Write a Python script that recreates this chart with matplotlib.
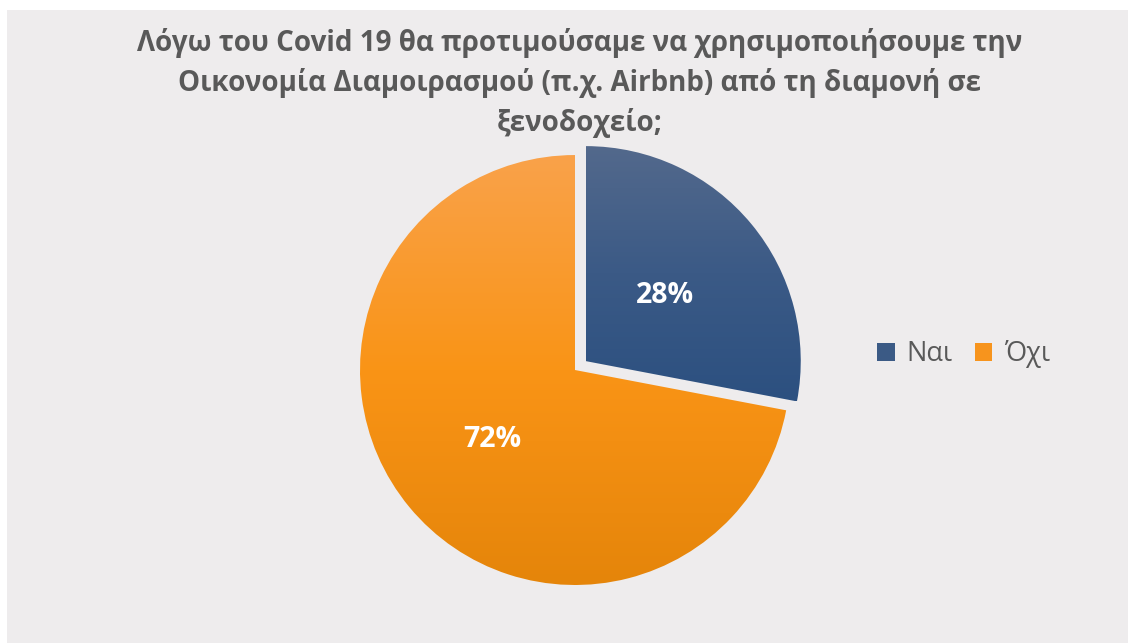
import numpy as np
import matplotlib.pyplot as plt
from matplotlib.colors import LinearSegmentedColormap
from matplotlib.patches import Rectangle, Patch

# survey answers
labels = ['Ναι', 'Όχι']
shares = [28, 72]
grad_colors = [['#53698c', '#3b5a86', '#2c5080'],
               ['#f9a24a', '#fa9416', '#e5850a']]
legend_colors = ['#3b5a85', '#f7941d']
title = ('Λόγω του Covid 19 θα προτιμούσαμε να χρησιμοποιήσουμε την\n'
         'Οικονομία Διαμοιρασμού (π.χ. Airbnb) από τη διαμονή σε\n'
         'ξενοδοχείο;')

plt.rcParams['font.family'] = ['Open Sans', 'DejaVu Sans']

fig = plt.figure(figsize=(11.35, 6.43), dpi=100)
fig.patch.set_facecolor('white')
fig.patches.append(Rectangle((7 / 1135, 0), 1121 / 1135, 633 / 643,
                             transform=fig.transFigure, facecolor='#eeeced',
                             edgecolor='none', zorder=-10))

ax = fig.add_axes([0.2793, 0.0233, 0.4546, 0.8025])
ax.set_facecolor('none')

wedges, texts = ax.pie(shares, startangle=90, counterclock=False,
                       explode=[0.065, 0], colors=legend_colors,
                       wedgeprops=dict(linewidth=0))

# vertical gradient inside each wedge (light at top, dark at bottom)
t = np.linspace(0, 1, 256)[:, None]
for w, cols in zip(wedges, grad_colors):
    cmap = LinearSegmentedColormap.from_list('g', cols)
    bb = w.get_path().get_extents()
    im = ax.imshow(t, cmap=cmap, extent=[bb.x0, bb.x1, bb.y0, bb.y1],
                   aspect='auto', origin='upper', zorder=2)
    im.set_clip_path(w)
    w.set_facecolor('none')

ax.set_xlim(-1.2, 1.2)
ax.set_ylim(-1.2, 1.2)
ax.set_aspect('equal')
ax.axis('off')

# percentage labels
lab_pos = [(0.42, 0.345), (-0.385, -0.325)]
for (x, y), v in zip(lab_pos, shares):
    ax.text(x, y, f'{v}%', color='white', fontsize=20.5, fontweight='bold',
            ha='center', va='center', zorder=5)

fig.text(0.511, 0.957, title, ha='center', va='top', fontsize=20,
         fontweight='bold', color='#595959', linespacing=1.45)

handles = [Patch(facecolor=c, label=l) for c, l in zip(legend_colors, labels)]
fig.legend(handles=handles, loc='center left', bbox_to_anchor=(0.7727, 0.449),
           ncol=2, frameon=False, fontsize=19.5, labelcolor='#595959',
           handlelength=0.65, handleheight=0.65, handletextpad=0.45,
           columnspacing=0.8, borderpad=0, borderaxespad=0)

fig.savefig('out.png', dpi=100, facecolor=fig.get_facecolor())
